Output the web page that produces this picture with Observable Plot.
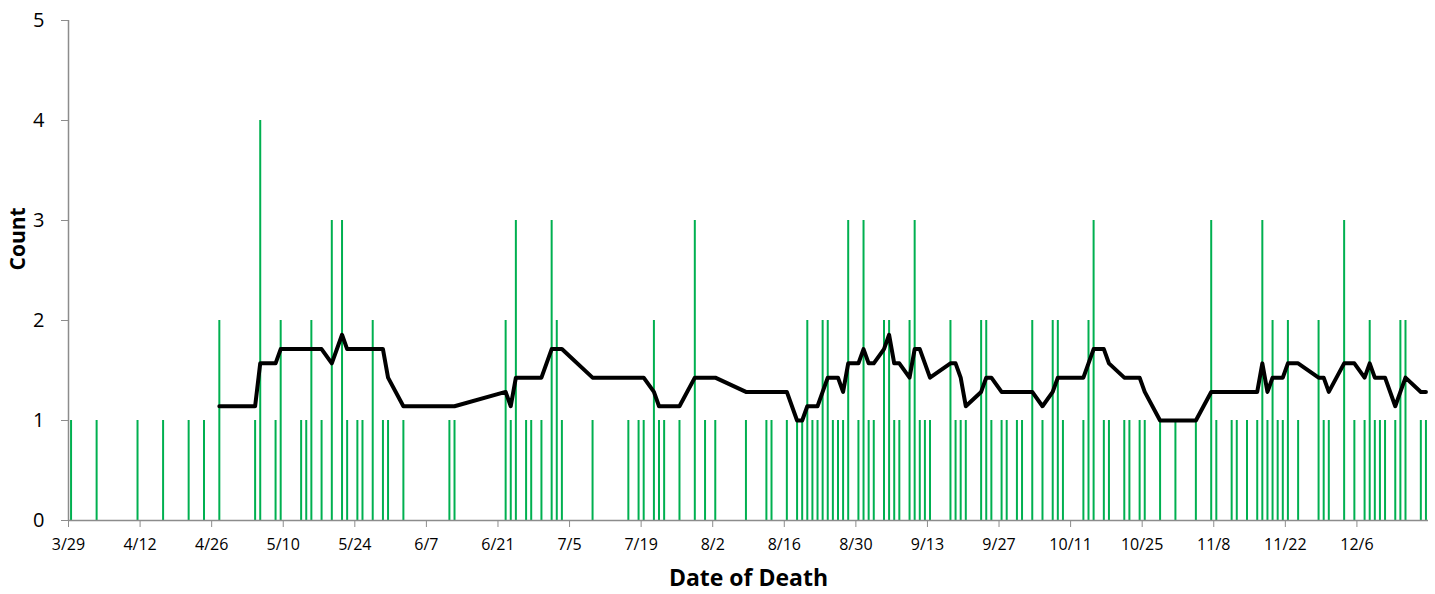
<!DOCTYPE html>
<html><head><meta charset="utf-8">
<script src="https://cdn.jsdelivr.net/npm/d3@7"></script>
<script src="https://cdn.jsdelivr.net/npm/@observablehq/plot@0.6"></script>
<style>body{margin:0;background:#fff}</style>
</head><body><div id="chart"></div>
<script>
// Date of death (month/day, 2020) and number of deaths on that day
const dates = [
  "3/29","4/3","4/11","4/16","4/21","4/24","4/27","5/4","5/5","5/8","5/9",
  "5/13","5/14","5/15","5/17","5/19","5/21","5/22","5/24","5/25","5/27","5/29","5/30",
  "6/2","6/11","6/12","6/22","6/23","6/24","6/26","6/27","6/29",
  "7/1","7/2","7/3","7/9","7/16","7/18","7/19","7/21","7/22","7/23","7/26","7/29","7/31",
  "8/2","8/8","8/12","8/13","8/16","8/18","8/19","8/20","8/21","8/22","8/23","8/24","8/25","8/26","8/27","8/28","8/30","8/31",
  "9/1","9/2","9/4","9/5","9/6","9/7","9/9","9/10","9/11","9/12","9/13","9/17","9/18","9/19","9/20","9/23","9/24","9/25","9/27","9/28","9/30",
  "10/1","10/3","10/5","10/7","10/8","10/9","10/13","10/14","10/15","10/17","10/18","10/21","10/22","10/24","10/25","10/28","10/31",
  "11/4","11/7","11/8","11/11","11/12","11/14","11/16","11/17","11/18","11/19","11/20","11/21","11/22","11/24","11/28","11/29","11/30",
  "12/3","12/5","12/7","12/8","12/9","12/10","12/11","12/13","12/14","12/15","12/18","12/19"
];
const counts = [
  1,1,1,1,1,1,2,1,4,1,2,
  1,1,2,1,3,3,1,1,1,2,1,1,
  1,1,1,2,1,3,1,1,1,
  3,2,1,1,1,1,1,2,1,1,1,3,1,
  1,1,1,1,1,1,1,2,1,1,2,2,1,1,1,3,1,3,
  1,1,2,2,1,1,2,3,1,1,1,2,1,1,1,2,2,1,1,1,1,
  1,2,1,2,2,1,1,2,3,1,1,1,1,1,1,1,1,
  1,3,1,1,1,1,1,3,1,2,1,1,2,1,2,1,1,
  3,1,1,2,1,1,1,1,2,2,1,1
];
const tickLabels = ["3/29","4/12","4/26","5/10","5/24","6/7","6/21","7/5","7/19","8/2","8/16","8/30","9/13","9/27","10/11","10/25","11/8","11/22","12/6"];
const yTicks = [0, 1, 2, 3, 4, 5];
const axisStart = "3/29", axisEnd = "12/20";
const YEAR = 2020;

const parse = s => { const [m, d] = s.split("/").map(Number); return new Date(Date.UTC(YEAR, m - 1, d)); };
const HALF_DAY = 12 * 3600 * 1000;
const data = dates.map((s, i) => ({date: parse(s), mid: new Date(parse(s).getTime() + HALF_DAY), count: counts[i]}));

const chart = Plot.plot({
  width: 1435, height: 594,
  marginLeft: 68, marginRight: 7, marginTop: 20, marginBottom: 74,
  style: {fontFamily: "'Open Sans', sans-serif", background: "#fff", color: "#000"},
  x: {type: "utc", domain: [parse(axisStart), parse(axisEnd)]},
  y: {domain: [0, 5]},
  marks: [
    Plot.ruleX(data, {x: "mid", y1: 0, y2: "count", stroke: "#00B050", strokeWidth: 2}),
    Plot.lineY(data, Plot.windowY({k: 7, anchor: "end", strict: true}, {x: "mid", y: "count", stroke: "#000", strokeWidth: 4, strokeLinejoin: "round"})),
    Plot.ruleY([0], {stroke: "#8c8c8c", strokeWidth: 1.5}),
    Plot.ruleX([parse(axisStart)], {stroke: "#8c8c8c", strokeWidth: 1.5}),
    Plot.axisY({ticks: yTicks, tickSize: 7, tickPadding: 17, stroke: "#8c8c8c", fill: "#000", fontSize: 20,
      tickFormat: d => String(d), label: null}),
    Plot.axisX({ticks: tickLabels.map(parse), tickSize: 7, tickPadding: 11, stroke: "#8c8c8c", fill: "#000",
      tickFormat: d => `${d.getUTCMonth() + 1}/${d.getUTCDate()}`, fontSize: 16, label: null}),
    Plot.text(["Count"], {text: d => d, frameAnchor: "left", dx: -50, rotate: -90, fontSize: 21, fontWeight: "bold", fill: "#000"}),
    Plot.text(["Date of Death"], {text: d => d, frameAnchor: "bottom", dy: 65, fontSize: 23, fontWeight: "bold", fill: "#000"})
  ]
});
document.getElementById("chart").append(chart);
</script>
</body></html>
